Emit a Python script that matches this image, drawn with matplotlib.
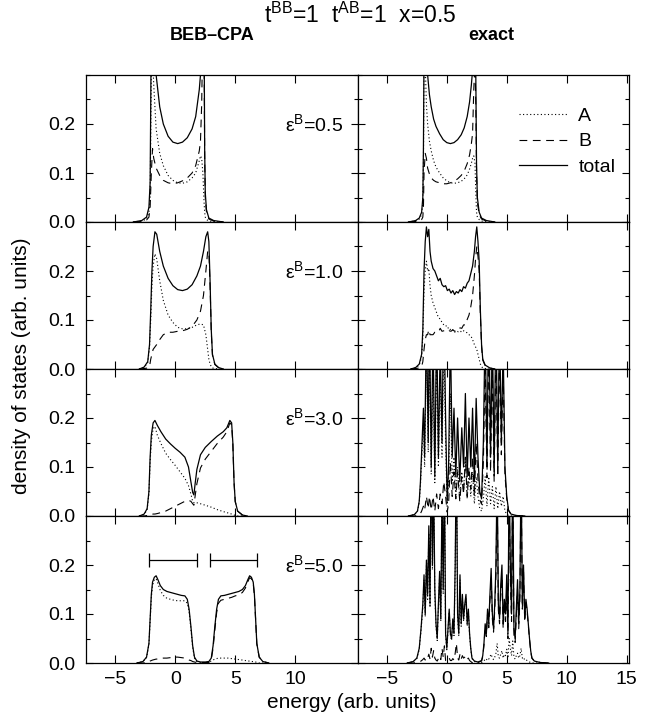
import matplotlib
matplotlib.use("Agg")
import matplotlib.pyplot as plt
from matplotlib.lines import Line2D
from matplotlib.ticker import MultipleLocator, FixedLocator

plt.rcParams['font.family'] = ['Liberation Sans', 'DejaVu Sans']
plt.rcParams['mathtext.fontset'] = 'custom'
plt.rcParams['mathtext.rm'] = 'Liberation Sans'
plt.rcParams['mathtext.it'] = 'Liberation Sans:italic'
plt.rcParams['mathtext.bf'] = 'Liberation Sans:bold'

# ---------------- data ----------------
title = r't$^{\mathrm{BB}}$=1  t$^{\mathrm{AB}}$=1  x=0.5'
col_titles = ['BEB\u2013CPA', 'exact']
eps_labels = ['0.5', '1.0', '3.0', '5.0']
legend_labels = ['A', 'B', 'total']
xticks_left = [-5, 0, 5, 10]
xticks_right = [-5, 0, 5, 10, 15]
yticks = [0.0, 0.1, 0.2]
ytick_labels = ['0.0', '0.1', '0.2']
xlabel = 'energy (arb. units)'
ylabel = 'density of states (arb. units)'
band_lo = [-2.2, 2.9]
band_hi = [1.8, 6.8]
band_level = 0.21

# BEB-CPA, eps=0.5
E_cpa1 = [-3.5, -2.8, -2.4, -2.2, -2.1, -2.0, -1.9, -1.8, -1.6, -1.3, -1.0, -0.6, -0.2, 0.2, 0.6, 1.0, 1.4, 1.7, 2.0, 2.1, 2.2, 2.3, 2.4, 2.45, 2.5, 2.6, 2.8, 3.2, 4.0]
T_cpa1 = [0.0, 0.003, 0.01, 0.03, 0.08, 0.4, 0.5, 0.4, 0.30, 0.235, 0.2, 0.175, 0.163, 0.16, 0.163, 0.172, 0.19, 0.215, 0.27, 0.30, 0.37, 0.5, 0.4, 0.15, 0.06, 0.025, 0.008, 0.003, 0.0]
A_cpa1 = [0.0, 0.002, 0.006, 0.02, 0.05, 0.3, 0.35, 0.28, 0.19, 0.14, 0.115, 0.095, 0.085, 0.08, 0.079, 0.082, 0.09, 0.10, 0.125, 0.135, 0.13, 0.1, 0.04, 0.02, 0.01, 0.005, 0.002, 0.001, 0.0]
B_cpa1 = [0.0, 0.001, 0.004, 0.01, 0.03, 0.1, 0.15, 0.13, 0.11, 0.095, 0.085, 0.08, 0.078, 0.08, 0.084, 0.09, 0.1, 0.115, 0.145, 0.165, 0.24, 0.4, 0.36, 0.13, 0.05, 0.02, 0.006, 0.002, 0.0]

# BEB-CPA, eps=1.0
E_cpa2 = [-3.0, -2.6, -2.3, -2.15, -2.05, -1.95, -1.85, -1.7, -1.55, -1.3, -1.0, -0.6, -0.2, 0.2, 0.6, 1.0, 1.4, 1.8, 2.1, 2.35, 2.55, 2.7, 2.8, 2.9, 3.0, 3.1, 3.3, 3.6, 4.0]
T_cpa2 = [0.0, 0.004, 0.015, 0.05, 0.12, 0.2, 0.25, 0.28, 0.275, 0.24, 0.21, 0.185, 0.17, 0.162, 0.16, 0.163, 0.172, 0.19, 0.21, 0.24, 0.27, 0.28, 0.26, 0.18, 0.08, 0.03, 0.01, 0.003, 0.0]
A_cpa2 = [0.0, 0.003, 0.013, 0.045, 0.1, 0.17, 0.21, 0.235, 0.225, 0.18, 0.14, 0.11, 0.095, 0.085, 0.082, 0.082, 0.085, 0.09, 0.092, 0.09, 0.07, 0.04, 0.02, 0.01, 0.005, 0.002, 0.001, 0.0, 0.0]
B_cpa2 = [0.0, 0.001, 0.002, 0.005, 0.02, 0.03, 0.04, 0.045, 0.05, 0.06, 0.07, 0.075, 0.075, 0.077, 0.078, 0.081, 0.087, 0.1, 0.118, 0.15, 0.2, 0.24, 0.24, 0.17, 0.075, 0.028, 0.009, 0.003, 0.0]

# BEB-CPA, eps=3.0
E_cpa3 = [-3.0, -2.6, -2.35, -2.2, -2.1, -2.0, -1.85, -1.7, -1.5, -1.2, -0.8, -0.4, 0.0, 0.4, 0.8, 1.1, 1.3, 1.45, 1.55, 1.65, 1.8, 2.1, 2.5, 3.0, 3.5, 4.0, 4.3, 4.55, 4.7, 4.8, 4.9, 5.0, 5.2, 5.6, 6.0]
T_cpa3 = [0.0, 0.004, 0.015, 0.05, 0.12, 0.165, 0.19, 0.195, 0.185, 0.172, 0.157, 0.147, 0.138, 0.13, 0.12, 0.1, 0.07, 0.048, 0.043, 0.065, 0.095, 0.125, 0.14, 0.152, 0.163, 0.172, 0.18, 0.195, 0.19, 0.15, 0.07, 0.03, 0.01, 0.002, 0.0]
A_cpa3 = [0.0, 0.003, 0.013, 0.045, 0.11, 0.152, 0.178, 0.183, 0.165, 0.148, 0.128, 0.115, 0.103, 0.09, 0.077, 0.062, 0.045, 0.03, 0.027, 0.028, 0.027, 0.025, 0.022, 0.018, 0.013, 0.009, 0.007, 0.005, 0.004, 0.003, 0.002, 0.001, 0.0, 0.0, 0.0]
B_cpa3 = [0.0, 0.0, 0.001, 0.002, 0.003, 0.003, 0.004, 0.004, 0.005, 0.007, 0.01, 0.015, 0.02, 0.025, 0.03, 0.032, 0.03, 0.025, 0.022, 0.04, 0.066, 0.098, 0.116, 0.132, 0.148, 0.161, 0.172, 0.19, 0.186, 0.147, 0.068, 0.029, 0.01, 0.002, 0.0]

# BEB-CPA, eps=5.0
E_cpa4 = [-3.2, -2.7, -2.4, -2.2, -2.1, -2.0, -1.9, -1.75, -1.6, -1.45, -1.25, -1.0, -0.7, -0.4, -0.1, 0.2, 0.5, 0.8, 1.0, 1.15, 1.3, 1.45, 1.6, 1.8, 2.1, 2.5, 2.8, 3.0, 3.15, 3.3, 3.45, 3.6, 3.8, 4.1, 4.4, 4.7, 5.0, 5.3, 5.6, 5.85, 6.05, 6.2, 6.35, 6.5, 6.6, 6.7, 6.8, 7.0, 7.3, 7.8]
T_cpa4 = [0.0, 0.003, 0.012, 0.04, 0.09, 0.14, 0.165, 0.175, 0.178, 0.17, 0.158, 0.15, 0.146, 0.144, 0.142, 0.14, 0.138, 0.137, 0.13, 0.11, 0.075, 0.035, 0.012, 0.004, 0.002, 0.002, 0.003, 0.01, 0.035, 0.075, 0.11, 0.13, 0.137, 0.138, 0.14, 0.142, 0.144, 0.146, 0.15, 0.158, 0.17, 0.178, 0.175, 0.165, 0.14, 0.09, 0.04, 0.012, 0.003, 0.0]
A_cpa4 = [0.0, 0.003, 0.011, 0.038, 0.085, 0.133, 0.158, 0.17, 0.172, 0.162, 0.148, 0.138, 0.132, 0.13, 0.128, 0.127, 0.127, 0.127, 0.122, 0.105, 0.07, 0.032, 0.01, 0.003, 0.001, 0.001, 0.002, 0.004, 0.006, 0.008, 0.009, 0.01, 0.01, 0.01, 0.01, 0.009, 0.008, 0.007, 0.006, 0.005, 0.004, 0.004, 0.003, 0.003, 0.002, 0.002, 0.001, 0.0, 0.0, 0.0]
B_cpa4 = [0.0, 0.0, 0.001, 0.002, 0.004, 0.005, 0.006, 0.007, 0.008, 0.008, 0.009, 0.01, 0.01, 0.011, 0.012, 0.012, 0.011, 0.01, 0.008, 0.006, 0.005, 0.003, 0.002, 0.001, 0.001, 0.001, 0.001, 0.007, 0.03, 0.068, 0.103, 0.122, 0.128, 0.13, 0.132, 0.134, 0.137, 0.139, 0.144, 0.153, 0.166, 0.174, 0.172, 0.162, 0.138, 0.088, 0.039, 0.012, 0.003, 0.0]

# exact, eps=0.5
E_ex1 = [-3.2, -2.6, -2.3, -2.1, -2.0, -1.95, -1.9, -1.8, -1.7, -1.6, -1.45, -1.3, -1.1, -0.9, -0.6, -0.3, 0.0, 0.3, 0.6, 0.9, 1.2, 1.45, 1.7, 1.9, 2.05, 2.15, 2.25, 2.35, 2.42, 2.48, 2.55, 2.7, 2.9, 3.3, 4.0]
T_ex1 = [0.0, 0.003, 0.008, 0.02, 0.05, 0.15, 0.35, 0.42, 0.33, 0.3, 0.26, 0.235, 0.21, 0.195, 0.18, 0.168, 0.162, 0.16, 0.162, 0.168, 0.178, 0.192, 0.215, 0.245, 0.28, 0.31, 0.4, 0.45, 0.3, 0.12, 0.05, 0.02, 0.008, 0.003, 0.0]
A_ex1 = [0.0, 0.002, 0.006, 0.015, 0.04, 0.12, 0.3, 0.32, 0.24, 0.2, 0.165, 0.145, 0.125, 0.112, 0.1, 0.09, 0.084, 0.08, 0.079, 0.08, 0.083, 0.088, 0.096, 0.108, 0.12, 0.13, 0.135, 0.12, 0.06, 0.02, 0.01, 0.005, 0.002, 0.001, 0.0]
B_ex1 = [0.0, 0.001, 0.002, 0.005, 0.01, 0.03, 0.1, 0.14, 0.13, 0.11, 0.098, 0.09, 0.085, 0.082, 0.08, 0.078, 0.078, 0.08, 0.083, 0.088, 0.095, 0.104, 0.119, 0.137, 0.16, 0.18, 0.27, 0.33, 0.24, 0.1, 0.04, 0.015, 0.006, 0.002, 0.0]

# exact, eps=1.0
E_ex2 = [-3.0, -2.6, -2.3, -2.1, -2.0, -1.9, -1.8, -1.7, -1.6, -1.5, -1.4, -1.3, -1.15, -1.0, -0.85, -0.7, -0.55, -0.4, -0.25, -0.1, 0.05, 0.2, 0.35, 0.5, 0.65, 0.8, 0.95, 1.1, 1.25, 1.4, 1.55, 1.7, 1.85, 2.0, 2.15, 2.3, 2.4, 2.5, 2.6, 2.7, 2.8, 2.9, 3.0, 3.2, 3.6, 4.0]
T_ex2 = [0.0, 0.003, 0.01, 0.03, 0.08, 0.2, 0.26, 0.29, 0.27, 0.285, 0.24, 0.22, 0.205, 0.2, 0.19, 0.18, 0.185, 0.172, 0.168, 0.17, 0.16, 0.163, 0.155, 0.16, 0.152, 0.158, 0.155, 0.162, 0.158, 0.168, 0.165, 0.175, 0.18, 0.195, 0.21, 0.24, 0.27, 0.29, 0.26, 0.22, 0.12, 0.05, 0.02, 0.008, 0.002, 0.0]
A_ex2 = [0.0, 0.002, 0.008, 0.025, 0.065, 0.16, 0.2, 0.22, 0.2, 0.205, 0.17, 0.15, 0.135, 0.125, 0.115, 0.105, 0.102, 0.095, 0.09, 0.09, 0.083, 0.085, 0.078, 0.08, 0.075, 0.078, 0.076, 0.078, 0.075, 0.078, 0.075, 0.074, 0.07, 0.068, 0.06, 0.05, 0.045, 0.04, 0.03, 0.02, 0.01, 0.005, 0.002, 0.001, 0.0, 0.0]
B_ex2 = [0.0, 0.001, 0.002, 0.005, 0.015, 0.04, 0.06, 0.07, 0.07, 0.08, 0.07, 0.07, 0.07, 0.075, 0.075, 0.075, 0.083, 0.077, 0.078, 0.08, 0.077, 0.078, 0.077, 0.08, 0.077, 0.08, 0.079, 0.084, 0.083, 0.09, 0.09, 0.101, 0.11, 0.127, 0.15, 0.19, 0.225, 0.25, 0.23, 0.2, 0.11, 0.045, 0.018, 0.007, 0.002, 0.0]

# exact, eps=3.0
E_ex3 = [-3.2, -2.7, -2.45, -2.3, -2.2, -2.1, -1.95, -1.85, -1.7, -1.55, -1.45, -1.3, -1.15, -1.0, -0.85, -0.7, -0.55, -0.4, -0.25, -0.1, 0.03, 0.15, 0.3, 0.45, 0.6, 0.75, 0.9, 1.08, 1.25, 1.4, 1.55, 1.7, 1.85, 2.0, 2.15, 2.3, 2.45, 2.6, 2.75, 2.9, 3.05, 3.2, 3.35, 3.5, 3.65, 3.8, 3.95, 4.1, 4.25, 4.4, 4.55, 4.7, 4.85, 5.0, 5.15, 5.35, 5.8, 6.5]
T_ex3 = [0.0, 0.003, 0.01, 0.03, 0.07, 0.13, 0.22, 0.12, 0.4, 0.15, 0.42, 0.1, 0.38, 0.08, 0.4, 0.12, 0.35, 0.15, 0.45, 0.2, 0.03, 0.1, 0.38, 0.12, 0.22, 0.08, 0.2, 0.07, 0.18, 0.1, 0.25, 0.08, 0.2, 0.1, 0.22, 0.07, 0.24, 0.12, 0.05, 0.035, 0.15, 0.4, 0.1, 0.45, 0.12, 0.38, 0.09, 0.42, 0.1, 0.4, 0.15, 0.35, 0.1, 0.04, 0.012, 0.004, 0.001, 0.0]
A_ex3 = [0.0, 0.003, 0.009, 0.027, 0.062, 0.115, 0.19, 0.1, 0.34, 0.13, 0.36, 0.085, 0.32, 0.068, 0.34, 0.1, 0.29, 0.12, 0.36, 0.15, 0.02, 0.07, 0.25, 0.07, 0.12, 0.04, 0.1, 0.035, 0.09, 0.05, 0.12, 0.035, 0.09, 0.04, 0.09, 0.025, 0.08, 0.04, 0.015, 0.01, 0.035, 0.08, 0.02, 0.08, 0.025, 0.06, 0.015, 0.06, 0.015, 0.05, 0.02, 0.04, 0.01, 0.004, 0.001, 0.0, 0.0, 0.0]
B_ex3 = [0.0, 0.0, 0.001, 0.002, 0.005, 0.01, 0.02, 0.012, 0.04, 0.015, 0.04, 0.012, 0.04, 0.01, 0.045, 0.015, 0.045, 0.025, 0.07, 0.04, 0.008, 0.025, 0.11, 0.04, 0.09, 0.035, 0.09, 0.03, 0.08, 0.045, 0.12, 0.04, 0.1, 0.055, 0.12, 0.04, 0.15, 0.075, 0.033, 0.024, 0.11, 0.31, 0.078, 0.36, 0.09, 0.31, 0.07, 0.35, 0.08, 0.34, 0.125, 0.3, 0.085, 0.035, 0.011, 0.004, 0.001, 0.0]

# exact, eps=5.0
E_ex4 = [-3.3, -2.8, -2.5, -2.3, -2.15, -2.0, -1.9, -1.8, -1.7, -1.6, -1.5, -1.4, -1.3, -1.2, -1.1, -1.0, -0.9, -0.8, -0.7, -0.6, -0.5, -0.4, -0.3, -0.2, -0.1, 0.0, 0.1, 0.2, 0.3, 0.4, 0.5, 0.6, 0.7, 0.8, 0.9, 1.0, 1.1, 1.2, 1.3, 1.4, 1.5, 1.6, 1.7, 1.8, 1.9, 2.0, 2.1, 2.3, 2.6, 2.9, 3.0, 3.1, 3.2, 3.3, 3.4, 3.5, 3.6, 3.7, 3.8, 3.9, 4.0, 4.1, 4.2, 4.3, 4.4, 4.5, 4.6, 4.7, 4.8, 4.9, 5.0, 5.1, 5.2, 5.3, 5.4, 5.5, 5.6, 5.7, 5.8, 5.9, 6.0, 6.1, 6.2, 6.3, 6.4, 6.5, 6.6, 6.7, 6.8, 6.9, 7.0, 7.1, 7.3, 7.8, 8.5]
T_ex4 = [0.0, 0.003, 0.01, 0.03, 0.07, 0.12, 0.18, 0.1, 0.21, 0.14, 0.28, 0.12, 0.45, 0.2, 0.38, 0.15, 0.08, 0.05, 0.12, 0.187, 0.09, 0.35, 0.15, 0.42, 0.06, 0.03, 0.07, 0.11, 0.06, 0.05, 0.09, 0.06, 0.2, 0.45, 0.1, 0.06, 0.18, 0.08, 0.14, 0.09, 0.12, 0.14, 0.08, 0.11, 0.06, 0.03, 0.01, 0.004, 0.002, 0.005, 0.015, 0.04, 0.08, 0.06, 0.11, 0.08, 0.14, 0.193, 0.1, 0.07, 0.12, 0.2, 0.4, 0.12, 0.09, 0.16, 0.2, 0.08, 0.13, 0.1, 0.18, 0.06, 0.4, 0.2, 0.1, 0.42, 0.07, 0.05, 0.11, 0.17, 0.08, 0.15, 0.42, 0.12, 0.2, 0.09, 0.13, 0.11, 0.08, 0.05, 0.025, 0.01, 0.004, 0.001, 0.0]
A_ex4 = [0.0, 0.003, 0.009, 0.028, 0.066, 0.113, 0.17, 0.094, 0.2, 0.13, 0.265, 0.113, 0.43, 0.19, 0.36, 0.14, 0.075, 0.046, 0.113, 0.177, 0.085, 0.33, 0.14, 0.4, 0.056, 0.027, 0.065, 0.104, 0.056, 0.046, 0.085, 0.056, 0.19, 0.43, 0.094, 0.056, 0.17, 0.075, 0.132, 0.085, 0.113, 0.132, 0.075, 0.104, 0.056, 0.028, 0.009, 0.003, 0.001, 0.001, 0.002, 0.004, 0.008, 0.006, 0.01, 0.008, 0.013, 0.018, 0.01, 0.007, 0.012, 0.02, 0.04, 0.012, 0.01, 0.018, 0.025, 0.01, 0.018, 0.015, 0.028, 0.01, 0.05, 0.03, 0.015, 0.045, 0.012, 0.008, 0.015, 0.02, 0.01, 0.015, 0.03, 0.01, 0.012, 0.006, 0.007, 0.005, 0.003, 0.002, 0.001, 0.0, 0.0, 0.0, 0.0]
B_ex4 = [0.0, 0.0, 0.001, 0.002, 0.004, 0.007, 0.01, 0.006, 0.012, 0.01, 0.018, 0.008, 0.03, 0.012, 0.025, 0.01, 0.006, 0.004, 0.009, 0.014, 0.007, 0.03, 0.012, 0.035, 0.005, 0.003, 0.006, 0.01, 0.005, 0.005, 0.009, 0.006, 0.02, 0.04, 0.01, 0.006, 0.018, 0.008, 0.015, 0.01, 0.012, 0.015, 0.008, 0.01, 0.005, 0.003, 0.001, 0.001, 0.001, 0.004, 0.013, 0.036, 0.072, 0.054, 0.1, 0.072, 0.127, 0.175, 0.09, 0.063, 0.108, 0.18, 0.36, 0.108, 0.08, 0.142, 0.175, 0.07, 0.112, 0.085, 0.152, 0.05, 0.35, 0.17, 0.085, 0.375, 0.058, 0.042, 0.095, 0.15, 0.07, 0.135, 0.39, 0.11, 0.188, 0.084, 0.123, 0.105, 0.077, 0.048, 0.024, 0.01, 0.004, 0.001, 0.0]

# ---------------- figure ----------------
panels = [
    [(E_cpa1, A_cpa1, B_cpa1, T_cpa1), (E_ex1, A_ex1, B_ex1, T_ex1)],
    [(E_cpa2, A_cpa2, B_cpa2, T_cpa2), (E_ex2, A_ex2, B_ex2, T_ex2)],
    [(E_cpa3, A_cpa3, B_cpa3, T_cpa3), (E_ex3, A_ex3, B_ex3, T_ex3)],
    [(E_cpa4, A_cpa4, B_cpa4, T_cpa4), (E_ex4, A_ex4, B_ex4, T_ex4)],
]

W, H = 654, 719
fig = plt.figure(figsize=(W / 100, H / 100), dpi=100)
gs = fig.add_gridspec(4, 2, left=86 / W, right=629 / W, top=1 - 75 / H, bottom=1 - 663 / H,
                      wspace=0, hspace=0)

lw = 0.8
sty_A = dict(color='black', lw=lw, linestyle=(0, (1, 2.2)))
sty_B = dict(color='black', lw=lw, linestyle=(0, (7, 5)))
sty_T = dict(color='black', lw=0.9, linestyle='-')

axes = [[None, None] for _ in range(4)]
for r in range(4):
    for c in range(2):
        ax = fig.add_subplot(gs[r, c])
        axes[r][c] = ax
        E, A, B, T = panels[r][c]
        ax.plot(E, A, **sty_A)
        ax.plot(E, B, **sty_B)
        ax.plot(E, T, **sty_T)
        ax.set_xlim(-7.45, 15.2)
        ax.set_ylim(0, 0.3)
        ax.xaxis.set_major_locator(FixedLocator(xticks_left if c == 0 else xticks_right))
        ax.yaxis.set_major_locator(FixedLocator(yticks))
        ax.yaxis.set_minor_locator(MultipleLocator(0.05))
        ax.tick_params(which='both', direction='in', top=True, right=True, labelsize=14)
        ax.tick_params(which='major', length=5, width=0.8)
        ax.tick_params(which='minor', length=3, width=0.8)
        ax.tick_params(axis='x', which='major', length=6)
        ax.tick_params(axis='y', pad=8)
        for s in ax.spines.values():
            s.set_linewidth(0.9)
        if c == 0:
            ax.set_yticklabels(ytick_labels)
            ax.text(14.0, 0.2, r'ε$^{\mathrm{B}}$=' + eps_labels[r], ha='right', va='center', fontsize=14)
        else:
            ax.tick_params(labelleft=False)
        if r < 3:
            ax.tick_params(labelbottom=False)
        else:
            ax.tick_params(axis='x', pad=6)
        if r == 3 and c == 0:
            ax.hlines([band_level, band_level], band_lo, band_hi, color='black', lw=0.9)
            ax.vlines(band_lo + band_hi, band_level - 0.014, band_level + 0.014, color='black', lw=0.9)

handles = [Line2D([], [], **sty_A), Line2D([], [], **sty_B), Line2D([], [], **sty_T)]
axes[0][1].legend(handles, legend_labels, loc='upper left', bbox_to_anchor=(0.595, 0.78),
                  frameon=False, fontsize=14, handlelength=2.45, handletextpad=0.6,
                  labelspacing=0.4, borderpad=0, borderaxespad=0)

fig.text(360 / W, 1 - 15 / H, title, ha='center', va='center', fontsize=16.5)
fig.text(212 / W, 1 - 35 / H, col_titles[0], ha='center', va='center', fontsize=13, fontweight='bold')
fig.text(491 / W, 1 - 35 / H, col_titles[1], ha='center', va='center', fontsize=13, fontweight='bold')
fig.text(22 / W, 1 - 366 / H, ylabel, ha='center', va='center', rotation=90, fontsize=15)
fig.text(352 / W, 1 - 703 / H, xlabel, ha='center', va='center', fontsize=15)

fig.savefig('out.png', dpi=100)
